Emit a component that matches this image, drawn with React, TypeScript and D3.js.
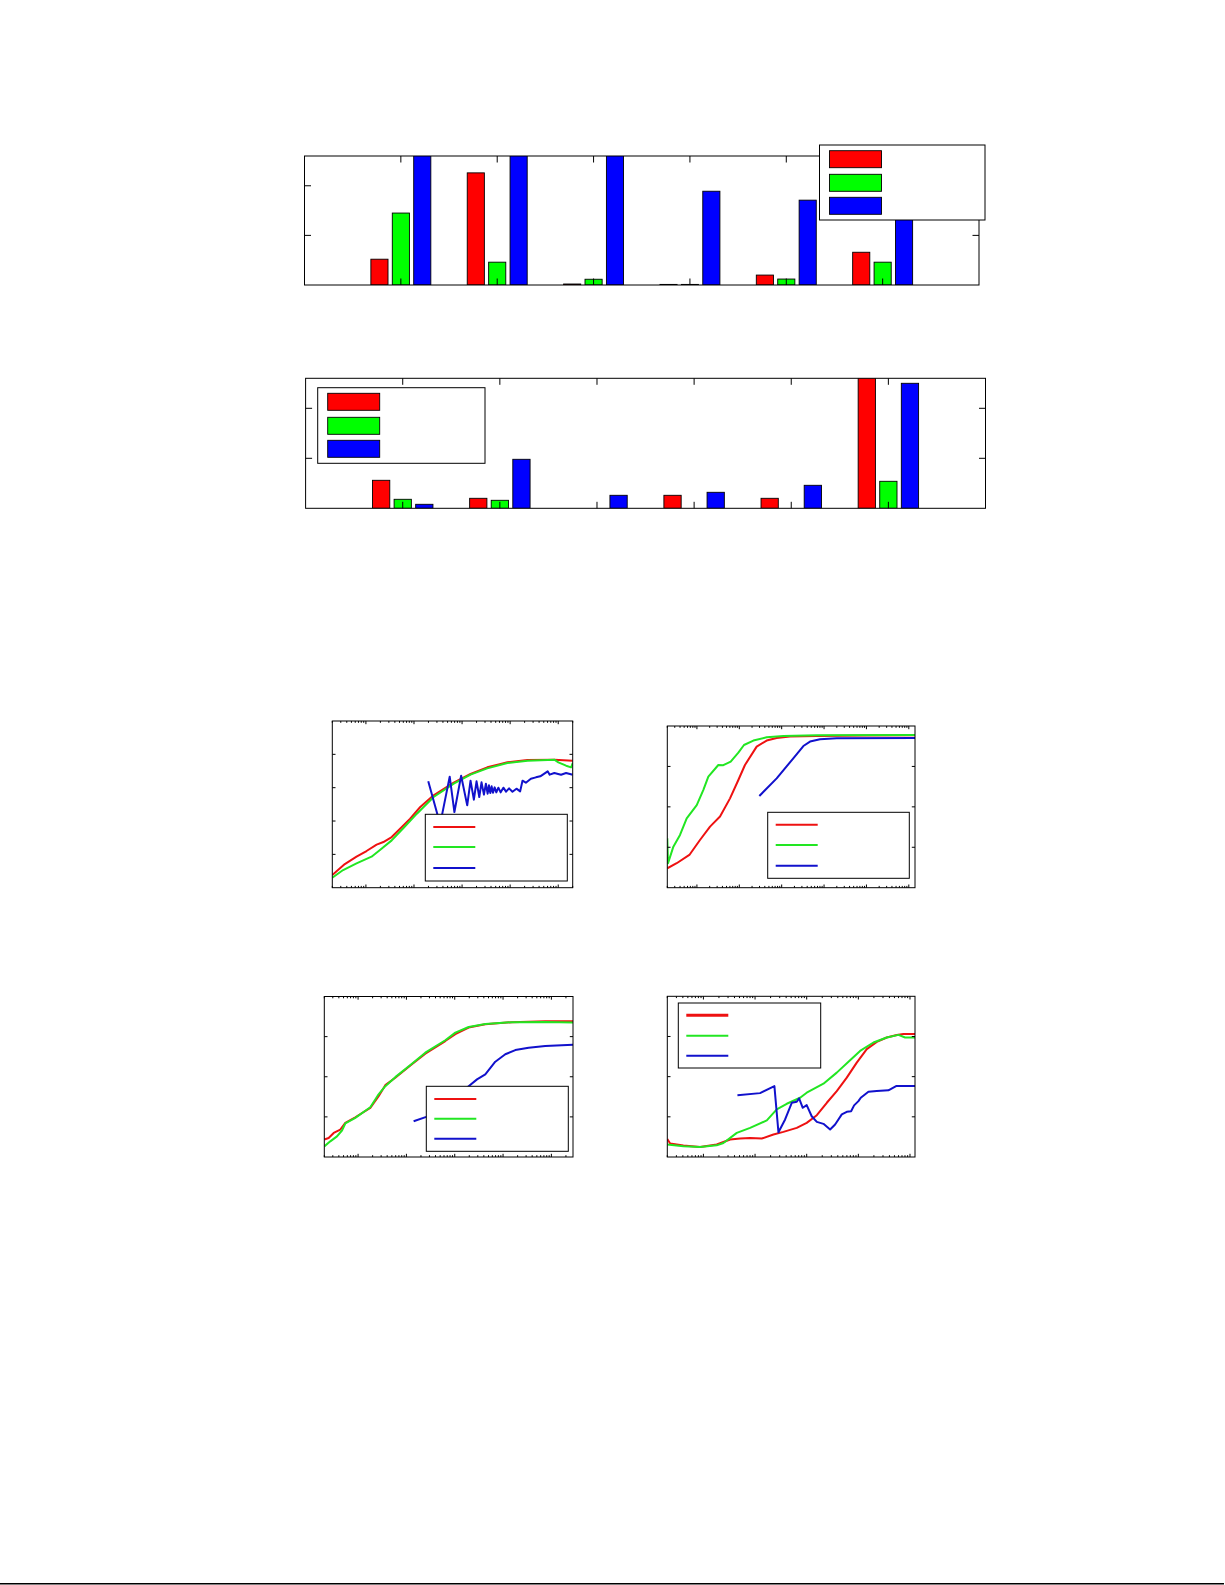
import React, { useEffect, useRef } from "react";
import * as d3 from "d3";

type Pt = [number, number];
interface Box {
	x0: number;
	x1: number;
	y0: number;
	y1: number;
}

// ---- grouped bars (six groups, three series)
const groups = [1, 2, 3, 4, 5, 6];
const barYTicks = [0.05, 0.1];
const topRed = [0.026, 0.113, 0.001, 0.0006, 0.01, 0.033];
const topGreen = [0.0725, 0.023, 0.0058, 0.0006, 0.006, 0.023];
const topBlue = [0.16, 0.15, 0.145, 0.0945, 0.0855, 0.09];
const lowRed = [0.028, 0.01, 0, 0.013, 0.01, 0.2];
const lowGreen = [0.009, 0.008, 0, 0, 0, 0.027];
const lowBlue = [0.004, 0.049, 0.013, 0.016, 0.023, 0.125];

// ---- curves, log x axis
const fig1Red: Pt[] = [[0.2, 0.538], [0.364, 0.571], [0.638, 0.593], [1.03, 0.61], [1.67, 0.629], [2.31, 0.637], [3.44, 0.652], [5.14, 0.677], [8.33, 0.707], [13.5, 0.742], [25.6, 0.777], [67.1, 0.815], [150, 0.841], [334, 0.861], [877, 0.876], [2297, 0.883], [8300, 0.884], [20000, 0.881]];
const fig1Green: Pt[] = [[0.2, 0.53], [0.336, 0.553], [0.638, 0.573], [1.31, 0.593], [1.96, 0.613], [3.44, 0.642], [6.04, 0.679], [11.5, 0.722], [25.6, 0.772], [67.1, 0.812], [150, 0.839], [334, 0.858], [877, 0.874], [2297, 0.881], [8300, 0.884], [10070, 0.876], [14560, 0.866], [18530, 0.861], [20000, 0.874]];
const fig1Blue: Pt[] = [[19.8, 0.819], [35, 0.69], [55.3, 0.833], [69.3, 0.727], [95.6, 0.836], [128, 0.747], [150, 0.821], [176, 0.764], [200, 0.819], [228, 0.772], [254, 0.816], [285, 0.779], [313, 0.812], [340, 0.782], [362, 0.807], [387, 0.784], [412, 0.804], [440, 0.785], [476, 0.801], [516, 0.786], [569, 0.8], [635, 0.786], [723, 0.8], [822, 0.788], [949, 0.798], [1117, 0.788], [1353, 0.797], [1614, 0.789], [1807, 0.821], [2120, 0.815], [2700, 0.827], [3433, 0.831], [4230, 0.834], [6030, 0.849], [6640, 0.839], [8300, 0.844], [11450, 0.839], [14560, 0.844], [20000, 0.839]];

const fig2Red: Pt[] = [[0.2, 0.296], [0.333, 0.321], [0.663, 0.362], [1.18, 0.436], [2.04, 0.502], [3.51, 0.552], [6.04, 0.642], [9.5, 0.733], [13.6, 0.807], [25.7, 0.898], [44.3, 0.928], [76.2, 0.941], [157, 0.948], [670, 0.951], [10100, 0.953], [140000, 0.954]];
const fig2Green: Pt[] = [[0.2, 0.444], [0.208, 0.321], [0.278, 0.403], [0.399, 0.461], [0.574, 0.543], [0.99, 0.609], [1.42, 0.684], [1.86, 0.75], [3.2, 0.807], [4.2, 0.806], [6.27, 0.824], [9.5, 0.868], [12.9, 0.906], [21.5, 0.928], [44.3, 0.944], [110, 0.951], [670, 0.954], [140000, 0.956]];
const fig2Blue: Pt[] = [[29.7, 0.654], [76.2, 0.741], [188, 0.84], [325, 0.901], [467, 0.923], [803, 0.934], [1986, 0.939], [140000, 0.941]];

const fig3Red: Pt[] = [[0.2, 0.287], [0.246, 0.295], [0.313, 0.32], [0.429, 0.337], [0.544, 0.37], [0.877, 0.398], [1.79, 0.445], [2.66, 0.503], [3.66, 0.558], [5.89, 0.595], [13, 0.662], [24.6, 0.715], [63.8, 0.778], [103, 0.812], [194, 0.845], [429, 0.862], [1530, 0.872], [7480, 0.877], [28000, 0.877]];
const fig3Green: Pt[] = [[0.2, 0.253], [0.266, 0.278], [0.366, 0.303], [0.464, 0.332], [0.544, 0.367], [0.877, 0.395], [1.79, 0.448], [2.58, 0.508], [3.66, 0.553], [5.89, 0.598], [13, 0.665], [24.6, 0.72], [63.8, 0.782], [103, 0.82], [194, 0.848], [429, 0.863], [1530, 0.872], [7480, 0.873], [28000, 0.87]];
const fig3Blue: Pt[] = [[14.1, 0.378], [25.8, 0.4], [87.7, 0.478], [194, 0.553], [289, 0.587], [429, 0.612], [691, 0.675], [1112, 0.712], [1792, 0.733], [3380, 0.745], [7480, 0.753], [28000, 0.76]];

const fig4Red: Pt[] = [[0.2, 0.29], [0.227, 0.267], [0.41, 0.257], [0.863, 0.25], [1.81, 0.262], [3.29, 0.287], [5.14, 0.292], [8.02, 0.295], [13.5, 0.292], [22.7, 0.312], [35.4, 0.325], [64.2, 0.345], [100, 0.37], [157, 0.408], [245, 0.47], [382, 0.528], [597, 0.595], [931, 0.67], [1456, 0.737], [2274, 0.773], [3550, 0.795], [5550, 0.807], [7470, 0.812], [12500, 0.812]];
const fig4Green: Pt[] = [[0.2, 0.262], [0.41, 0.253], [0.863, 0.25], [1.81, 0.258], [2.44, 0.27], [4.43, 0.32], [8.02, 0.345], [16.9, 0.382], [26.3, 0.437], [41.1, 0.465], [74.5, 0.495], [100, 0.52], [211, 0.565], [382, 0.62], [692, 0.682], [1081, 0.728], [1960, 0.77], [3550, 0.795], [5970, 0.808], [8040, 0.795], [12500, 0.795]];
const fig4Blue: Pt[] = [[4.56, 0.508], [12.5, 0.518], [23.7, 0.553], [28.4, 0.323], [38.2, 0.387], [51.4, 0.47], [64.2, 0.475], [71.3, 0.492], [83.9, 0.445], [100, 0.458], [125, 0.403], [157, 0.375], [211, 0.365], [284, 0.337], [355, 0.362], [478, 0.412], [597, 0.425], [724, 0.428], [828, 0.457], [1004, 0.478], [1114, 0.495], [1567, 0.525], [2274, 0.528], [3820, 0.532], [5380, 0.553], [12500, 0.553]];

const barColors = ["#ff0000", "#00ff00", "#0000ff"];
const lineColors = ["#ee1111", "#22e622", "#1111cc"];

function drawFrame(g: any, box: Box, xt: number[][], yt: number[][]) {
	g.append("rect")
		.attr("x", box.x0)
		.attr("y", box.y0)
		.attr("width", box.x1 - box.x0)
		.attr("height", box.y1 - box.y0)
		.attr("fill", "none")
		.attr("stroke", "#000")
		.attr("stroke-width", 1);
	// ticks inside, mirrored on the opposite side
	xt.forEach(([px, len]) => {
		g.append("line").attr("x1", px).attr("x2", px).attr("y1", box.y1).attr("y2", box.y1 - len).attr("stroke", "#000");
		g.append("line").attr("x1", px).attr("x2", px).attr("y1", box.y0).attr("y2", box.y0 + len).attr("stroke", "#000");
	});
	yt.forEach(([py, len]) => {
		g.append("line").attr("x1", box.x0).attr("x2", box.x0 + len).attr("y1", py).attr("y2", py).attr("stroke", "#000");
		g.append("line").attr("x1", box.x1).attr("x2", box.x1 - len).attr("y1", py).attr("y2", py).attr("stroke", "#000");
	});
}

function drawBars(svg: any, id: string, box: Box, series: number[][], legend: Box, rows: number[]) {
	const x = d3.scaleLinear().domain([0, 7]).range([box.x0, box.x1]);
	const y = d3.scaleLinear().domain([0, 0.13]).range([box.y1, box.y0]);
	const g = svg.append("g");
	g.append("clipPath").attr("id", id).append("rect").attr("x", box.x0).attr("y", box.y0).attr("width", box.x1 - box.x0).attr("height", box.y1 - box.y0);
	const step = 2 / 9; // group width 2/3 split over three bars
	const bw = step * 0.8;
	const bars = g.append("g").attr("clip-path", `url(#${id})`);
	series.forEach((vals, i) => {
		bars
			.selectAll(`rect.s${i}`)
			.data(vals)
			.join("rect")
			.attr("class", `s${i}`)
			.attr("x", (_: number, j: number) => x(groups[j] + (i - 1) * step - bw / 2))
			.attr("width", x(bw) - x(0))
			.attr("y", (d: number) => y(d))
			.attr("height", (d: number) => y(0) - y(d))
			.attr("fill", barColors[i])
			.attr("stroke", "#000")
			.attr("stroke-width", 0.9);
	});
	drawFrame(
		g,
		box,
		groups.map((v) => [x(v), 6.5]),
		barYTicks.map((v) => [y(v), 6.5])
	);
	// legend (entries have no text)
	g.append("rect")
		.attr("x", legend.x0)
		.attr("y", legend.y0)
		.attr("width", legend.x1 - legend.x0)
		.attr("height", legend.y1 - legend.y0)
		.attr("fill", "#fff")
		.attr("stroke", "#000");
	rows.forEach((ry, i) => {
		g.append("rect")
			.attr("x", legend.x0 + 10)
			.attr("y", ry)
			.attr("width", 52)
			.attr("height", 17)
			.attr("fill", barColors[i])
			.attr("stroke", "#000")
			.attr("stroke-width", 0.9);
	});
}

function drawLines(svg: any, id: string, box: Box, xDomain: number[], yTicks: number[], yDomain: number[], series: Pt[][], legend: Box, rows: number[], widths: number[]) {
	const x = d3.scaleLog().domain(xDomain).range([box.x0, box.x1]);
	const y = d3.scaleLinear().domain(yDomain).range([box.y1, box.y0]);
	const g = svg.append("g");
	g.append("clipPath").attr("id", id).append("rect").attr("x", box.x0).attr("y", box.y0).attr("width", box.x1 - box.x0).attr("height", box.y1 - box.y0);
	const line = d3
		.line<Pt>()
		.x((d) => x(d[0]))
		.y((d) => y(d[1]));
	const plot = g.append("g").attr("clip-path", `url(#${id})`);
	series.forEach((pts, i) => {
		plot.append("path").attr("d", line(pts)).attr("fill", "none").attr("stroke", lineColors[i]).attr("stroke-width", 2).attr("stroke-linejoin", "round");
	});
	const xt = x.ticks().map((t) => {
		const major = Math.abs(Math.log10(t) - Math.round(Math.log10(t))) < 1e-6;
		return [x(t), major ? 3.2 : 1.8];
	});
	drawFrame(
		g,
		box,
		xt,
		yTicks.map((v) => [y(v), 3.2])
	);
	g.append("rect")
		.attr("x", legend.x0)
		.attr("y", legend.y0)
		.attr("width", legend.x1 - legend.x0)
		.attr("height", legend.y1 - legend.y0)
		.attr("fill", "#fff")
		.attr("stroke", "#000");
	rows.forEach((ry, i) => {
		g.append("line")
			.attr("x1", legend.x0 + 8)
			.attr("x2", legend.x0 + 50)
			.attr("y1", ry)
			.attr("y2", ry)
			.attr("stroke", lineColors[i])
			.attr("stroke-width", widths[i]);
	});
}

function draw(ref: SVGSVGElement) {
	const svg = d3.select(ref);
	svg.selectAll("*").remove();
	svg.append("rect").attr("width", 1225).attr("height", 1585).attr("fill", "#fff");

	drawBars(svg, "c-bar1", { x0: 304.5, x1: 979, y0: 156, y1: 285 }, [topRed, topGreen, topBlue], { x0: 819.5, x1: 985, y0: 145, y1: 220 }, [150.7, 174.3, 197.3]);
	drawBars(svg, "c-bar2", { x0: 305.6, x1: 985.5, y0: 378.3, y1: 508.3 }, [lowRed, lowGreen, lowBlue], { x0: 317.7, x1: 485, y0: 387.7, y1: 463.3 }, [393.3, 417.3, 440.3]);

	drawLines(svg, "c-l1", { x0: 332.3, x1: 572.7, y0: 721, y1: 887.7 }, [0.2, 20000], [0.6, 0.7, 0.8, 0.9], [0.5, 1], [fig1Red, fig1Green, fig1Blue], { x0: 425.3, x1: 567.3, y0: 814.3, y1: 881 }, [827, 847, 868], [2, 2, 2]);
	drawLines(svg, "c-l2", { x0: 667.3, x1: 915, y0: 726, y1: 887.7 }, [0.2, 140000], [0.4, 0.6, 0.8], [0.2, 1], [fig2Red, fig2Green, fig2Blue], { x0: 767.7, x1: 909.3, y0: 812.3, y1: 878.3 }, [824.7, 845, 865.7], [2, 2, 2]);
	drawLines(svg, "c-l3", { x0: 324.3, x1: 573, y0: 996.5, y1: 1157 }, [0.2, 28000], [0.4, 0.6, 0.8], [0.2, 1], [fig3Red, fig3Green, fig3Blue], { x0: 426.3, x1: 568.3, y0: 1086.3, y1: 1151.3 }, [1099, 1118.7, 1138.7], [2, 2, 2]);
	drawLines(svg, "c-l4", { x0: 667.3, x1: 915, y0: 996.3, y1: 1157 }, [0.2, 12500], [0.4, 0.6, 0.8], [0.2, 1], [fig4Red, fig4Green, fig4Blue], { x0: 678.3, x1: 820.7, y0: 1003, y1: 1068 }, [1015.3, 1035.7, 1055.7], [3, 2, 2]);

	// page rule at the foot
	svg.append("line").attr("x1", 0).attr("x2", 1224).attr("y1", 1583.8).attr("y2", 1583.8).attr("stroke", "#000").attr("stroke-width", 1.5);
}

export default function App() {
	const ref = useRef<SVGSVGElement>(null);
	useEffect(() => {
		if (!ref.current) return;
		draw(ref.current);
	}, []);
	return <svg ref={ref} width={1225} height={1585} style={{ position: "absolute", left: 0, top: 0, display: "block" }} />;
}
